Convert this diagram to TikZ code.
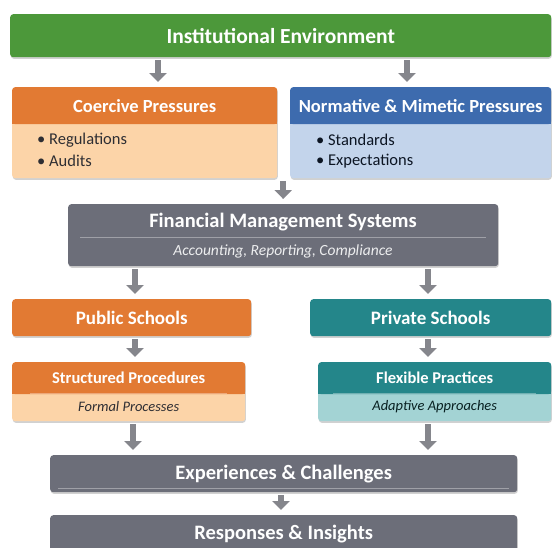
\documentclass[tikz,border=0pt]{standalone}
\usepackage{fontspec}
\setmainfont{Carlito}
\usetikzlibrary{arrows.meta,shadows}

\definecolor{envgreen}{HTML}{4C983A}
\definecolor{coerorange}{HTML}{E27A33}
\definecolor{coerlight}{HTML}{FCD4A8}
\definecolor{normblue}{HTML}{3D6BAE}
\definecolor{normlight}{HTML}{C3D4EB}
\definecolor{sysgray}{HTML}{6C6E79}
\definecolor{privteal}{HTML}{24868A}
\definecolor{teallight}{HTML}{A3D3D4}
\definecolor{arrowgray}{HTML}{85868C}
\definecolor{inktext}{HTML}{2E2E33}

\newcommand{\fsz}[1]{\fontsize{#1}{#1}\selectfont}

\tikzset{
  head/.style={rounded corners=3pt, anchor=north west, inner sep=0pt,
    text=white, font=\bfseries\fsz{18.5}},
  panel/.style={head, drop shadow={shadow xshift=0.6pt, shadow yshift=-1.6pt,
    fill=black, opacity=0.18}},
  item/.style={anchor=west, inner sep=0pt, text=inktext, font=\fsz{16.5}},
  note/.style={inner sep=0pt, font=\itshape\fsz{14.5}},
  rule/.style={white, opacity=0.35, line width=0.6pt},
  flow/.style={draw=arrowgray, line width=6pt,
    -{Triangle[length=9pt,width=17pt]}, shorten <=3pt, shorten >=5pt},
}

\begin{document}
\begin{tikzpicture}[x=1pt,y=-1pt]
\useasboundingbox (0,0) rectangle (553,547);
\clip (0,0) rectangle (553,547);

% top
\node[panel, fill=envgreen, minimum width=541, minimum height=43,
  font=\bfseries\fsz{21.5}] (env) at (10,14) {Institutional Environment};

% pressures, left and right
\node[panel, fill=coerlight, minimum width=265, minimum height=91] (coerbody) at (12,87) {};
\node[head, fill=coerorange, minimum width=265, minimum height=37] (coer) at (12,87) {Coercive Pressures};
\fill[coerorange] ([yshift=4pt]coer.south west) rectangle (coer.south east);
\node[item] (reg) at (37,140) {• Regulations};
\node[item] (aud) at (37,161) {• Audits};

\node[panel, fill=normlight, minimum width=261, minimum height=91] (normbody) at (290,87) {};
\node[head, fill=normblue, minimum width=261, minimum height=37] (norm) at (290,87) {Normative \& Mimetic Pressures};
\fill[normblue] ([yshift=4pt]norm.south west) rectangle (norm.south east);
\node[item, text=black!80!normblue] (std) at (316,140) {• Standards};
\node[item, text=black!80!normblue] (exq) at (316,161) {• Expectations};

% systems
\node[panel, fill=sysgray, minimum width=430, minimum height=62] (fin) at (68,204) {};
\node[inner sep=0pt, text=white, font=\bfseries\fsz{20.5}] (fintitle) at (283,222) {Financial Management Systems};
\draw[rule] ([xshift=12pt]fin.west |- 0,237) -- ([xshift=-12pt]fin.east |- 0,237);
\node[note, text=white!88!sysgray, font=\itshape\fsz{15.5}] (finsub) at (283,251) {Accounting, Reporting, Compliance};

% schools
\node[panel, fill=coerorange, minimum width=239, minimum height=37,
  font=\bfseries\fsz{19}] (pub) at (12,299) {Public Schools};
\node[panel, fill=privteal, minimum width=241, minimum height=37,
  font=\bfseries\fsz{19}] (priv) at (310,299) {Private Schools};

% practices
\node[panel, fill=coerlight, minimum width=233, minimum height=59] (strbody) at (12,362) {};
\node[head, fill=coerorange, minimum width=233, minimum height=32, font=\bfseries\fsz{16.5}] (str) at (12,362) {Structured Procedures};
\fill[coerorange] ([yshift=4pt]str.south west) rectangle (str.south east);
\draw[rule] ([xshift=18pt,yshift=1pt]str.south west) -- ([xshift=-18pt,yshift=1pt]str.south east);
\node[note, text=inktext] (formal) at (strbody.center |- 0,407) {Formal Processes};

\node[panel, fill=teallight, minimum width=233, minimum height=59] (flexbody) at (318,362) {};
\node[head, fill=privteal, minimum width=233, minimum height=32, font=\bfseries\fsz{16.5}] (flex) at (318,362) {Flexible Practices};
\fill[privteal] ([yshift=4pt]flex.south west) rectangle (flex.south east);
\draw[rule] ([xshift=15pt,yshift=1pt]flex.south west) -- ([xshift=-15pt,yshift=1pt]flex.south east);
\node[note, text=black!75!privteal] (adapt) at (flexbody.center |- 0,407) {Adaptive Approaches};

% outcomes
\node[panel, fill=sysgray, minimum width=467, minimum height=37,
  font=\bfseries\fsz{20.5}] (exp) at (50,455) {Experiences \& Challenges};
\draw[rule] ([xshift=8pt,yshift=4pt]exp.south west) -- ([xshift=-8pt,yshift=4pt]exp.south east);
\node[panel, fill=sysgray, minimum width=467, minimum height=37,
  font=\bfseries\fsz{20.5}] (resp) at (50,515) {Responses \& Insights};
\draw[rule] ([xshift=8pt,yshift=4pt]resp.south west) -- ([xshift=-8pt,yshift=4pt]resp.south east);

% arrows
\draw[flow] (env.south -| 158,0) -- (coerbody.north -| 158,0);
\draw[flow] (env.south -| 407,0) -- (normbody.north -| 407,0);
\draw[flow] (coerbody.south -| fin.north) -- (fin.north);
\draw[flow] (fin.south -| 135,0) -- (pub.north -| 135,0);
\draw[flow] (fin.south -| 428,0) -- (priv.north -| 428,0);
\draw[flow] (pub.south -| 135,0) -- (strbody.north -| 135,0);
\draw[flow] (priv.south -| 428,0) -- (flexbody.north -| 428,0);
\draw[flow] (strbody.south -| 133,0) -- (exp.north -| 133,0);
\draw[flow] (flexbody.south -| 428,0) -- (exp.north -| 428,0);
\draw[flow] (exp.south -| 281,0) -- (resp.north -| 281,0);
\end{tikzpicture}
\end{document}
